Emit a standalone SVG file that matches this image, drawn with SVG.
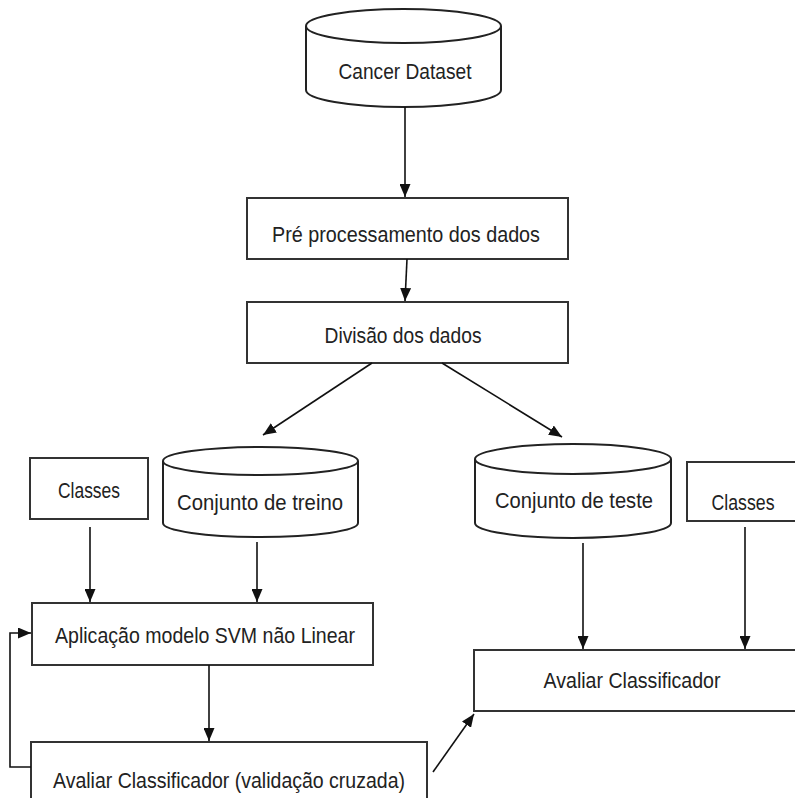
<svg xmlns="http://www.w3.org/2000/svg" width="795" height="798" viewBox="0 0 795 798">
<defs>
<marker id="arr" markerUnits="userSpaceOnUse" markerWidth="13" markerHeight="11" viewBox="0 0 13 11" refX="13" refY="5.5" orient="auto">
<path d="M0,0 L13,5.5 L0,11 z" fill="#111"/>
</marker>
<style>
.box{fill:#fff;stroke:#333;stroke-width:2}
.cyl{fill:#fff;stroke:#222;stroke-width:2}
.lbl{font-family:"Liberation Sans",Arial,sans-serif;font-size:22.5px;fill:#222;text-anchor:middle}
.con{fill:none;stroke:#111;stroke-width:1.6;marker-end:url(#arr)}
</style>
</defs>
<rect width="795" height="798" fill="#fff"/>
<g id="cancer-dataset">
<path class="cyl" d="M306,26 L306,90 A97.5,17 0 0 0 501,90 L501,26"/>
<ellipse class="cyl" cx="403.5" cy="26" rx="97.5" ry="17"/>
<text class="lbl" x="405" y="79" textLength="133" lengthAdjust="spacingAndGlyphs">Cancer Dataset</text>
</g>
<g id="pre-processamento">
<rect class="box" x="247" y="198" width="321" height="61"/>
<text class="lbl" x="406" y="242" textLength="268" lengthAdjust="spacingAndGlyphs">Pré processamento dos dados</text>
</g>
<g id="divisao">
<rect class="box" x="247" y="302" width="321" height="61"/>
<text class="lbl" x="403" y="343" textLength="157" lengthAdjust="spacingAndGlyphs">Divisão dos dados</text>
</g>
<g id="classes-left">
<rect class="box" x="30" y="458" width="118" height="61"/>
<text class="lbl" x="89" y="498" textLength="62" lengthAdjust="spacingAndGlyphs">Classes</text>
</g>
<g id="conjunto-treino">
<path class="cyl" d="M163,461 L163,523 A97.5,14 0 0 0 358,523 L358,461"/>
<ellipse class="cyl" cx="260.5" cy="461" rx="97.5" ry="14"/>
<text class="lbl" x="260" y="510" textLength="166" lengthAdjust="spacingAndGlyphs">Conjunto de treino</text>
</g>
<g id="conjunto-teste">
<path class="cyl" d="M475,459 L475,523 A98,15 0 0 0 671,523 L671,459"/>
<ellipse class="cyl" cx="573" cy="459" rx="98" ry="15"/>
<text class="lbl" x="574" y="508" textLength="158" lengthAdjust="spacingAndGlyphs">Conjunto de teste</text>
</g>
<g id="classes-right">
<rect class="box" x="687" y="462" width="113" height="59"/>
<text class="lbl" x="743" y="510" textLength="63" lengthAdjust="spacingAndGlyphs">Classes</text>
</g>
<g id="svm">
<rect class="box" x="32" y="603" width="341" height="62"/>
<text class="lbl" x="205" y="643" textLength="300" lengthAdjust="spacingAndGlyphs">Aplicação modelo SVM não Linear</text>
</g>
<g id="avaliar-right">
<rect class="box" x="474" y="650" width="326" height="61"/>
<text class="lbl" x="632" y="688" textLength="177" lengthAdjust="spacingAndGlyphs">Avaliar Classificador</text>
</g>
<g id="avaliar-cv">
<rect class="box" x="31" y="742" width="396" height="70"/>
<text class="lbl" x="229" y="788" textLength="352" lengthAdjust="spacingAndGlyphs">Avaliar Classificador (validação cruzada)</text>
</g>
<g id="connectors">
<line class="con" x1="405" y1="107" x2="405" y2="197"/>
<line class="con" x1="407" y1="259" x2="405" y2="301"/>
<line class="con" x1="372" y1="363" x2="263" y2="435"/>
<line class="con" x1="442" y1="363" x2="562" y2="437"/>
<line class="con" x1="90" y1="527" x2="90" y2="602"/>
<line class="con" x1="257" y1="542" x2="257" y2="602"/>
<line class="con" x1="583" y1="543" x2="583" y2="649"/>
<line class="con" x1="745" y1="527" x2="745" y2="649"/>
<line class="con" x1="209" y1="665" x2="209" y2="741"/>
<path class="con" d="M31,767 H10 V633 H31"/>
<line class="con" x1="433" y1="772" x2="474" y2="714"/>
</g>
</svg>
